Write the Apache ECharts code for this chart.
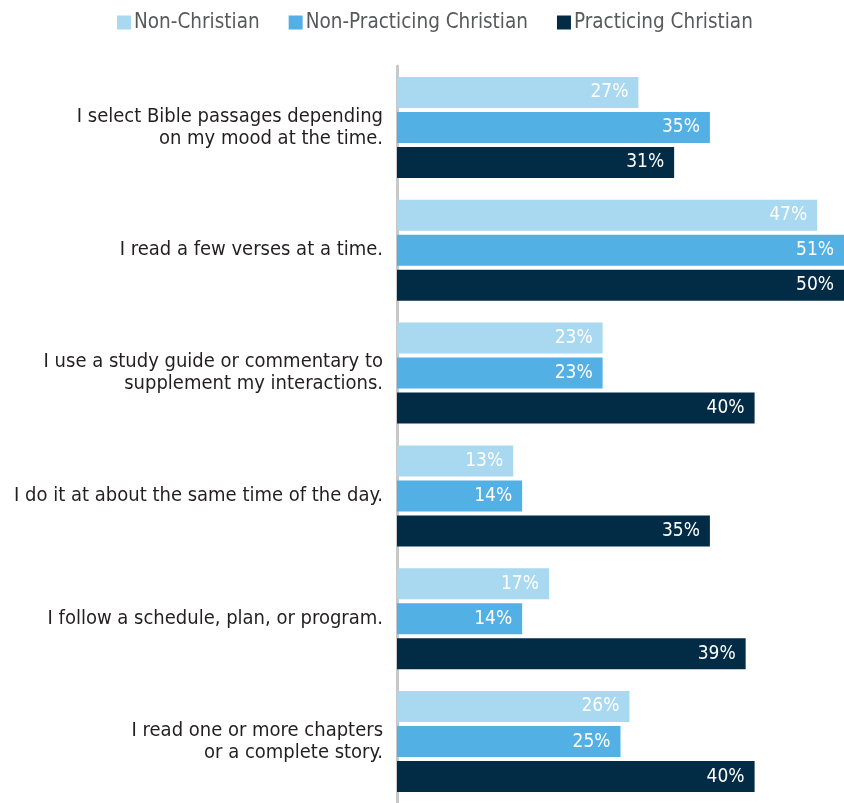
<!DOCTYPE html>
<html>
<head>
<meta charset="utf-8">
<script src="https://cdn.jsdelivr.net/npm/echarts@6/dist/echarts.min.js"></script>
<style>
  html, body { margin: 0; padding: 0; background: #fff; }
  #chart { width: 844px; height: 803px; }
</style>
</head>
<body>
<div id="chart"></div>
<script>
// categories, top to bottom
const categories = [
  "I select Bible passages depending\non my mood at the time.",
  "I read a few verses at a time.",
  "I use a study guide or commentary to\nsupplement my interactions.",
  "I do it at about the same time of the day.",
  "I follow a schedule, plan, or program.",
  "I read one or more chapters\nor a complete story."
];
const seriesNames = ["Non-Christian", "Non-Practicing Christian", "Practicing Christian"];
const nonChristian = [27, 47, 23, 13, 17, 26];
const nonPracticing = [35, 51, 23, 14, 14, 25];
const practicing = [31, 50, 40, 35, 39, 40];
const colors = ["#a9d8f1", "#53b0e4", "#022b46"];

const FONT = "'DejaVu Sans Condensed', 'DejaVu Sans', sans-serif";

const chart = echarts.init(document.getElementById("chart"));

const makeSeries = (name, data, i) => ({
  name: name,
  type: "bar",
  data: data,
  barWidth: 31,
  barGap: "13%",
  itemStyle: { color: colors[i] },
  label: {
    show: true,
    position: "insideRight",
    distance: 10,
    formatter: "{c}%",
    color: "#fff",
    fontFamily: FONT,
    fontSize: 19
  }
});

chart.setOption({
  animation: false,
  legend: {
    top: 7,
    left: 112,
    itemWidth: 14,
    itemHeight: 14,
    itemGap: 29,
    icon: "rect",
    textStyle: { color: "#58595b", fontFamily: FONT, fontSize: 20.5, padding: [0, 0, 0, -2] },
    data: seriesNames
  },
  grid: { left: 397, top: 66, width: 450, height: 744, containLabel: false },
  xAxis: {
    type: "value",
    min: 0,
    max: 50,
    show: false
  },
  yAxis: {
    type: "category",
    inverse: true,
    data: categories,
    axisTick: { show: false },
    axisLine: { show: true, lineStyle: { color: "#c8c8c8", width: 3 } },
    axisLabel: {
      margin: 14,
      color: "#231f20",
      fontFamily: FONT,
      fontSize: 20,
      lineHeight: 22,
      align: "right"
    }
  },
  series: [
    makeSeries(seriesNames[0], nonChristian, 0),
    makeSeries(seriesNames[1], nonPracticing, 1),
    makeSeries(seriesNames[2], practicing, 2)
  ]
});
</script>
</body>
</html>
